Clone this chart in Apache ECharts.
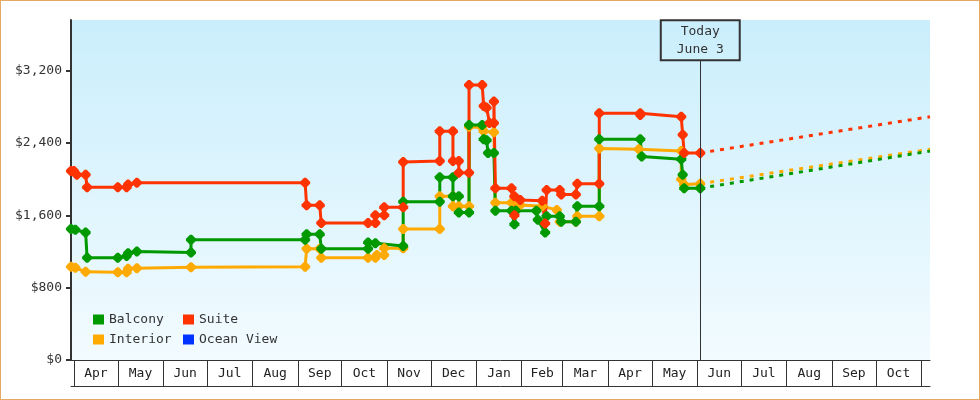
<!DOCTYPE html>
<html>
<head>
<meta charset="utf-8">
<script src="https://cdn.jsdelivr.net/npm/echarts@6/dist/echarts.min.js"></script>
<style>
  body { margin: 0; background: #fff; }
  #chart { width: 980px; height: 400px; box-sizing: border-box; border: 1px solid #e6a964; }
</style>
</head>
<body>
<div id="chart"></div>
<script>
  // month cells on the x axis: Apr 2022 .. Oct 2023
  const monthNames = ['Jan', 'Feb', 'Mar', 'Apr', 'May', 'Jun', 'Jul', 'Aug', 'Sep', 'Oct', 'Nov', 'Dec']
  const firstYear = 2022
  const firstMonth = 3
  const monthCount = 19
  const yTicks = [0, 800, 1600, 2400, 3200]
  const xMin = '2022-03-30'
  const xMax = '2023-11-07'

  const today = '2023-06-03'
  const todayLabel = 'Today\nJune 3'

  const interior = [
    ['2022-03-30', 1030], ['2022-04-02', 1020], ['2022-04-09', 975], ['2022-05-01', 970],
    ['2022-05-07', 970], ['2022-05-08', 1010], ['2022-05-14', 1015], ['2022-06-20', 1025],
    ['2022-09-06', 1030], ['2022-09-07', 1230], ['2022-09-16', 1230], ['2022-09-17', 1130],
    ['2022-10-19', 1130], ['2022-10-24', 1130], ['2022-10-25', 1160], ['2022-10-30', 1160],
    ['2022-10-30', 1235], ['2022-11-12', 1235], ['2022-11-12', 1450], ['2022-12-07', 1450],
    ['2022-12-07', 1810], ['2022-12-16', 1810], ['2022-12-16', 1700], ['2022-12-20', 1700],
    ['2022-12-27', 1700], ['2022-12-27', 2580], ['2023-01-05', 2570], ['2023-01-06', 2530],
    ['2023-01-13', 2520], ['2023-01-14', 1740], ['2023-01-25', 1740], ['2023-01-31', 1715],
    ['2023-02-15', 1700], ['2023-02-25', 1660], ['2023-02-27', 1530], ['2023-03-10', 1530],
    ['2023-03-11', 1590], ['2023-03-26', 1590], ['2023-03-26', 2340], ['2023-04-22', 2330],
    ['2023-05-21', 2310], ['2023-05-21', 2000], ['2023-05-23', 1940], ['2023-06-03', 1950]
  ]
  const balcony = [
    ['2022-03-30', 1450], ['2022-04-02', 1440], ['2022-04-09', 1410], ['2022-04-10', 1130],
    ['2022-05-01', 1130], ['2022-05-07', 1150], ['2022-05-08', 1180], ['2022-05-14', 1200],
    ['2022-06-20', 1190], ['2022-06-20', 1330], ['2022-09-06', 1330], ['2022-09-07', 1390],
    ['2022-09-16', 1390], ['2022-09-17', 1230], ['2022-10-19', 1230], ['2022-10-19', 1300],
    ['2022-10-24', 1290], ['2022-11-12', 1260], ['2022-11-12', 1750], ['2022-12-07', 1750],
    ['2022-12-07', 2020], ['2022-12-16', 2020], ['2022-12-16', 1810], ['2022-12-20', 1810],
    ['2022-12-20', 1630], ['2022-12-27', 1630], ['2022-12-27', 2600], ['2023-01-05', 2600],
    ['2023-01-06', 2440], ['2023-01-08', 2430], ['2023-01-09', 2290], ['2023-01-13', 2290],
    ['2023-01-14', 1650], ['2023-01-25', 1650], ['2023-01-27', 1500], ['2023-01-28', 1650],
    ['2023-02-11', 1650], ['2023-02-12', 1550], ['2023-02-17', 1410], ['2023-02-18', 1590],
    ['2023-02-27', 1590], ['2023-02-28', 1530], ['2023-03-10', 1530], ['2023-03-11', 1700],
    ['2023-03-26', 1700], ['2023-03-26', 2440], ['2023-04-23', 2440], ['2023-04-24', 2250],
    ['2023-05-21', 2220], ['2023-05-22', 2050], ['2023-05-23', 1900], ['2023-06-03', 1900]
  ]
  const suite = [
    ['2022-03-30', 2090], ['2022-04-01', 2090], ['2022-04-03', 2050], ['2022-04-09', 2050],
    ['2022-04-10', 1910], ['2022-05-01', 1910], ['2022-05-07', 1910], ['2022-05-08', 1940],
    ['2022-05-14', 1960], ['2022-09-06', 1960], ['2022-09-07', 1710], ['2022-09-16', 1710],
    ['2022-09-17', 1515], ['2022-10-19', 1515], ['2022-10-24', 1515], ['2022-10-24', 1600],
    ['2022-10-30', 1600], ['2022-10-30', 1690], ['2022-11-12', 1690], ['2022-11-12', 2190],
    ['2022-12-07', 2200], ['2022-12-07', 2530], ['2022-12-16', 2530], ['2022-12-16', 2200],
    ['2022-12-20', 2200], ['2022-12-20', 2070], ['2022-12-27', 2070], ['2022-12-27', 3040],
    ['2023-01-05', 3040], ['2023-01-06', 2810], ['2023-01-08', 2790], ['2023-01-10', 2620],
    ['2023-01-13', 2620], ['2023-01-13', 2860], ['2023-01-14', 1900], ['2023-01-25', 1900],
    ['2023-01-27', 1600], ['2023-01-27', 1810], ['2023-01-31', 1770], ['2023-02-15', 1760],
    ['2023-02-17', 1510], ['2023-02-18', 1880], ['2023-02-27', 1880], ['2023-02-28', 1830],
    ['2023-03-10', 1830], ['2023-03-11', 1950], ['2023-03-26', 1950], ['2023-03-26', 2730],
    ['2023-04-23', 2730], ['2023-04-23', 2710], ['2023-05-21', 2690], ['2023-05-22', 2490],
    ['2023-05-23', 2290], ['2023-06-03', 2290]
  ]
  const oceanView = []

  // projected prices after today
  const interiorForecast = [['2023-06-03', 1950], ['2023-11-07', 2330]]
  const balconyForecast = [['2023-06-03', 1900], ['2023-11-07', 2310]]
  const suiteForecast = [['2023-06-03', 2290], ['2023-11-07', 2690]]

  const colors = { Balcony: '#009900', Suite: '#ff3300', Interior: '#ffaa00', 'Ocean View': '#0033ff' }
  const font = 'DejaVu Sans Mono'

  function toTime(s) { return new Date(s + 'T00:00:00').getTime() }
  function toPoints(arr) { return arr.map(function (p) { return [toTime(p[0]), p[1]] }) }

  const monthStarts = []
  for (let i = 0; i <= monthCount; i++) monthStarts.push(new Date(firstYear, firstMonth + i, 1).getTime())
  const monthMids = []
  for (let i = 0; i < monthCount; i++) monthMids.push((monthStarts[i] + monthStarts[i + 1]) / 2)

  const marker = 'path://M4,0L6,0L10,4L10,6L6,10L4,10L0,6L0,4Z'

  function priceSeries(name, data, extra) {
    return Object.assign({
      name: name,
      type: 'line',
      data: toPoints(data),
      color: colors[name],
      symbol: marker,
      symbolSize: 10,
      showSymbol: true,
      showAllSymbol: true,
      lineStyle: { width: 3, color: colors[name] },
      itemStyle: { color: colors[name] },
      emphasis: { disabled: true }
    }, extra || {})
  }

  function forecastSeries(name, data) {
    return {
      name: name,
      type: 'line',
      data: toPoints(data),
      color: colors[name],
      symbol: 'none',
      lineStyle: { width: 3, type: [4, 6], color: colors[name] },
      emphasis: { disabled: true },
      silent: true
    }
  }

  const legendBase = {
    orient: 'vertical',
    top: 312,
    padding: 0,
    itemWidth: 11,
    itemHeight: 10,
    itemGap: 7,
    icon: 'rect',
    itemStyle: { borderWidth: 0 },
    textStyle: { fontFamily: font, fontSize: 13, color: '#333' },
    selectedMode: false
  }

  const chart = echarts.init(document.getElementById('chart'))
  chart.setOption({
    animation: false,
    backgroundColor: '#fff',
    legend: [
      Object.assign({ left: 92, data: ['Balcony', 'Interior'] }, legendBase),
      Object.assign({ left: 182, data: ['Suite', 'Ocean View'] }, legendBase)
    ],
    grid: {
      left: 70,
      right: 49,
      top: 19,
      bottom: 39,
      show: true,
      borderWidth: 0,
      backgroundColor: {
        type: 'linear', x: 0, y: 0, x2: 0, y2: 1,
        colorStops: [{ offset: 0, color: '#caeefc' }, { offset: 1, color: '#f2fbff' }]
      }
    },
    xAxis: [
      {
        type: 'value',
        min: toTime(xMin),
        max: toTime(xMax),
        axisLine: { show: true, onZero: false, lineStyle: { color: '#333', width: 1 } },
        axisTick: { show: true, customValues: monthStarts, length: 26, lineStyle: { color: '#333', width: 1 } },
        axisLabel: {
          customValues: monthMids,
          margin: 7,
          fontFamily: font,
          fontSize: 13,
          color: '#222',
          formatter: function (val) { return monthNames[new Date(val).getMonth()] }
        },
        splitLine: { show: false }
      },
      {
        type: 'value',
        min: toTime(xMin),
        max: toTime(xMax),
        position: 'bottom',
        offset: 26,
        axisLine: { show: true, onZero: false, lineStyle: { color: '#333', width: 1 } },
        axisTick: { show: false },
        axisLabel: { show: false },
        splitLine: { show: false }
      }
    ],
    yAxis: {
      type: 'value',
      min: 0,
      max: 3760,
      axisLine: { show: true, lineStyle: { color: '#333', width: 2 } },
      axisTick: { show: true, customValues: yTicks, length: 5, lineStyle: { color: '#333', width: 2 } },
      axisLabel: {
        customValues: yTicks,
        margin: 9,
        fontFamily: font,
        fontSize: 13,
        color: '#333',
        formatter: function (v) { return '$' + v.toLocaleString('en-US') }
      },
      splitLine: { show: false }
    },
    series: [
      priceSeries('Interior', interior),
      priceSeries('Balcony', balcony),
      priceSeries('Suite', suite, {
        markLine: {
          silent: true,
          symbol: 'none',
          animation: false,
          lineStyle: { color: '#333', width: 1, type: 'solid' },
          label: {
            show: true,
            position: 'end',
            distance: 0,
            formatter: todayLabel,
            fontFamily: font,
            fontSize: 13,
            lineHeight: 18,
            color: '#333',
            backgroundColor: 'transparent',
            borderColor: '#333',
            borderWidth: 1,
            padding: [2, 16, 2, 16]
          },
          data: [[{ coord: [toTime(today), 0] }, { coord: [toTime(today), 3315] }]]
        }
      }),
      forecastSeries('Interior', interiorForecast),
      forecastSeries('Balcony', balconyForecast),
      forecastSeries('Suite', suiteForecast),
      priceSeries('Ocean View', oceanView)
    ]
  })
</script>
</body>
</html>
